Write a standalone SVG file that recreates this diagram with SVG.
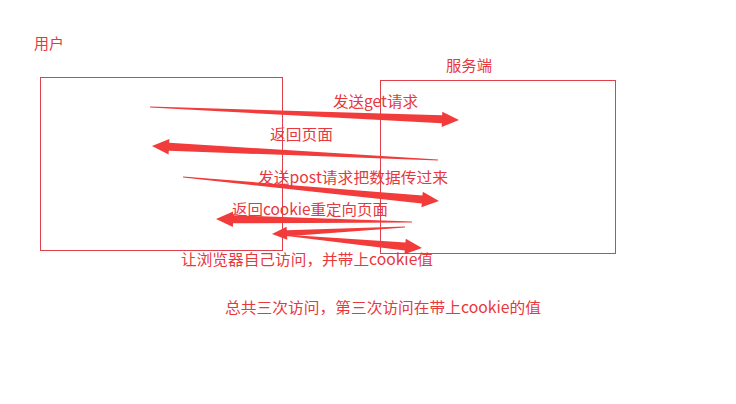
<svg xmlns="http://www.w3.org/2000/svg" width="736" height="404" viewBox="0 0 736 404">
<style>
text{font-family:"Noto Sans CJK SC","Liberation Sans",sans-serif;font-size:15px;fill:#e8383d}
.box{fill:none;stroke:#e0404c;stroke-width:1}
.arr{fill:#f23b3b;stroke:none}
</style>
<rect width="736" height="404" fill="#ffffff"/>
<g id="user">
<rect class="box" x="40.5" y="77.5" width="242" height="173"/>
<text x="34" y="49" textLength="30" lengthAdjust="spacingAndGlyphs">用户</text>
</g>
<g id="server">
<rect class="box" x="380.5" y="80.5" width="235" height="173"/>
<text x="446" y="71" textLength="46" lengthAdjust="spacingAndGlyphs">服务端</text>
</g>
<g id="connectors">
<polygon class="arr" points="150,106.5 442.2,115.3 442.3,111.8 459,120 441.7,127 441.8,123.3 150,107.5"/>
<polygon class="arr" points="438,159.5 169.2,142.8 169.4,139 152,146 168.6,154.5 168.8,150.8 438,160.5"/>
<polygon class="arr" points="183,176.5 422.4,195.5 422.8,191.8 439,201 421.4,207.2 421.8,203.5 183,177.5"/>
<polygon class="arr" points="412,221.5 233,215.3 233.1,211.5 216,219 232.9,227 233,223.3 412,222.5"/>
<polygon class="arr" points="405,226.5 286.8,230.3 286.6,226.8 272,234 287.3,239.8 287.1,236.3 405,227.5"/>
<polygon class="arr" points="283,234.5 405.4,242.5 405.8,238.8 422,248 404.4,254.2 404.8,250.5 283,235.5"/>
<text x="333" y="107" textLength="85" lengthAdjust="spacingAndGlyphs">发送get请求</text>
<text x="270" y="140" textLength="63" lengthAdjust="spacingAndGlyphs">返回页面</text>
<text x="258" y="183" textLength="190" lengthAdjust="spacingAndGlyphs">发送post请求把数据传过来</text>
<text x="232" y="215" textLength="156" lengthAdjust="spacingAndGlyphs">返回cookie重定向页面</text>
<text x="181" y="265" textLength="252" lengthAdjust="spacingAndGlyphs">让浏览器自己访问，并带上cookie值</text>
</g>
<g id="note">
<text x="225" y="313" textLength="316" lengthAdjust="spacingAndGlyphs">总共三次访问，第三次访问在带上cookie的值</text>
</g>
</svg>
